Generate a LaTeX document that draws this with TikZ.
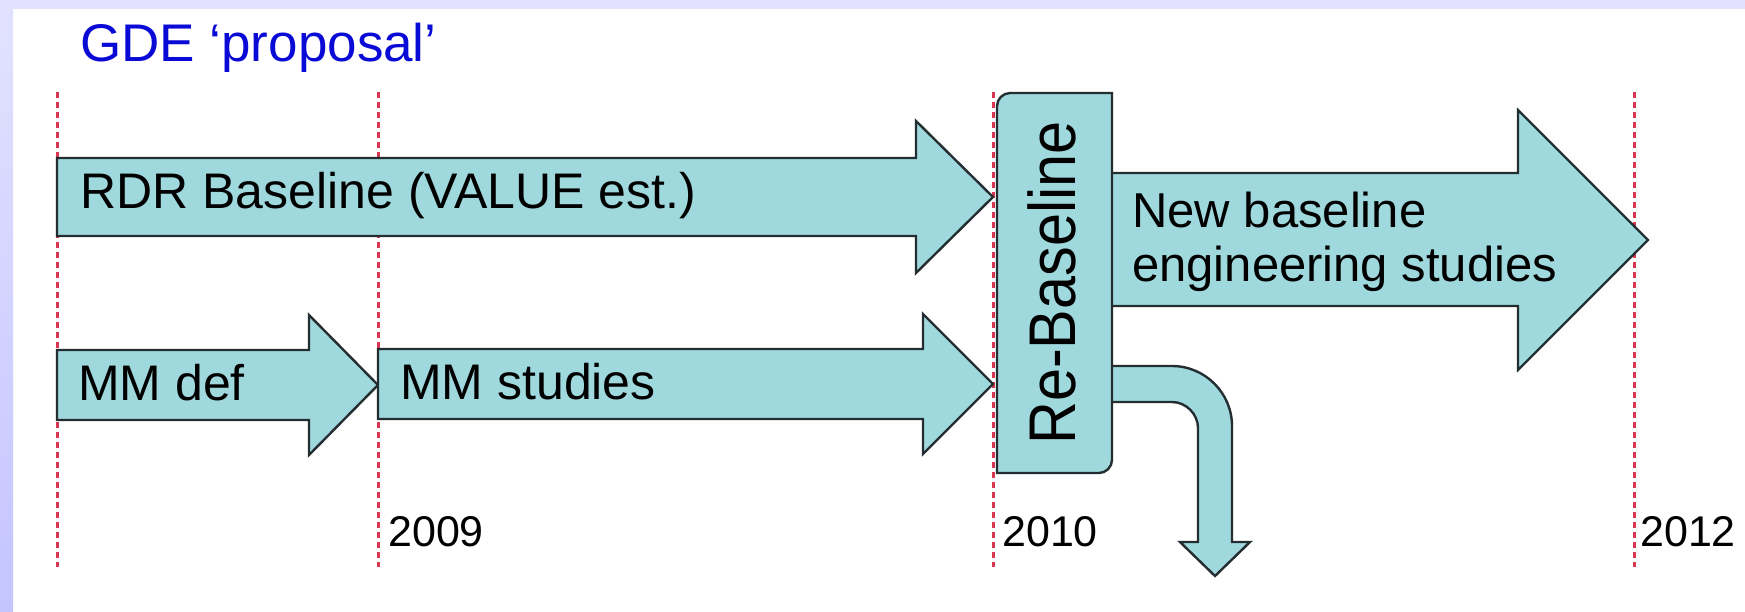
\documentclass[tikz,border=0pt]{standalone}
\usepackage{fontspec}
\setmainfont{Liberation Sans}
\definecolor{barteal}{RGB}{159,217,222}
\definecolor{baredge}{RGB}{36,46,48}
\definecolor{yearred}{RGB}{215,55,80}
\definecolor{titleblue}{RGB}{10,10,215}
\definecolor{slidelav}{RGB}{226,226,255}
\definecolor{slidelavdark}{RGB}{196,196,255}

\begin{document}
\begin{tikzpicture}[
    x=1pt, y=-1pt,
    blockarrow/.style={fill=barteal, draw=baredge, line width=2.4pt, line join=miter},
    yearline/.style={draw=yearred, line width=3pt, dash pattern=on 6pt off 4pt},
    bartext/.style={inner sep=0pt, anchor=base west, font=\fontsize{50}{56}\selectfont},
    yeartext/.style={inner sep=0pt, anchor=base west, font=\fontsize{43}{50}\selectfont}
]
\useasboundingbox (0,0) rectangle (1745,611);

% Slide frame
\fill[white] (0,0) rectangle (1745,611);
\fill[slidelav] (0,0) rectangle (1745,9);
\shade[top color=slidelav, bottom color=slidelavdark] (0,0) rectangle (13,611);

% Title
\node[inner sep=0pt, anchor=base west, text=titleblue, font=\fontsize{53}{60}\selectfont] (title) at (80,61) {GDE ‘proposal’};

% Year lines
\foreach \x in {57,378,993,1634}
    \draw[yearline] (\x,92) -- (\x,567);

% Arrows
\draw[blockarrow] (57,158) -- (916,158) -- (916,121) -- (993,197) -- (916,273) -- (916,236) -- (57,236) -- cycle;
\draw[blockarrow] (57,350) -- (309,350) -- (309,315) -- (378,385) -- (309,455) -- (309,420) -- (57,420) -- cycle;
\draw[blockarrow] (378,349) -- (923,349) -- (923,314) -- (993,384) -- (923,454) -- (923,419) -- (378,419) -- cycle;
\draw[blockarrow] (1111,173) -- (1518,173) -- (1518,110) -- (1648,240) -- (1518,370) -- (1518,306) -- (1111,306) -- cycle;
\draw[blockarrow] (1111,366) -- (1172,366) .. controls (1205,366) and (1232,393) .. (1232,426) -- (1232,542) -- (1250,542) -- (1215,576) -- (1180,542) -- (1198,542) -- (1198,428) .. controls (1198,414) and (1186,402) .. (1172,402) -- (1111,402) -- cycle;

% Re-baseline box
\draw[blockarrow] (997,473) -- (997,106) .. controls (997,99) and (1003,93) .. (1010,93) -- (1112,93) -- (1112,460) .. controls (1112,467) and (1106,473) .. (1099,473) -- cycle;

% Nodes
\node[bartext] (rdr) at (80,208) {RDR Baseline (VALUE est.)};
\node[bartext] (mmdef) at (78,400) {MM def};
\node[bartext] (mmstudies) at (400,399) {MM studies};
\node[rotate=90, inner sep=0pt, font=\fontsize{66}{70}\selectfont] (rebase) at (1052,283) {\scalebox{0.9}[1]{Re-Baseline}};
\node[inner sep=0pt, anchor=west, align=left, font=\fontsize{49}{54}\selectfont] (newbase) at (1132,242) {New baseline\\engineering studies};

% Years
\node[yeartext] (y2009) at (388,546) {2009};
\node[yeartext] (y2010) at (1002,546) {2010};
\node[yeartext] (y2012) at (1640,546) {2012};

\end{tikzpicture}
\end{document}
